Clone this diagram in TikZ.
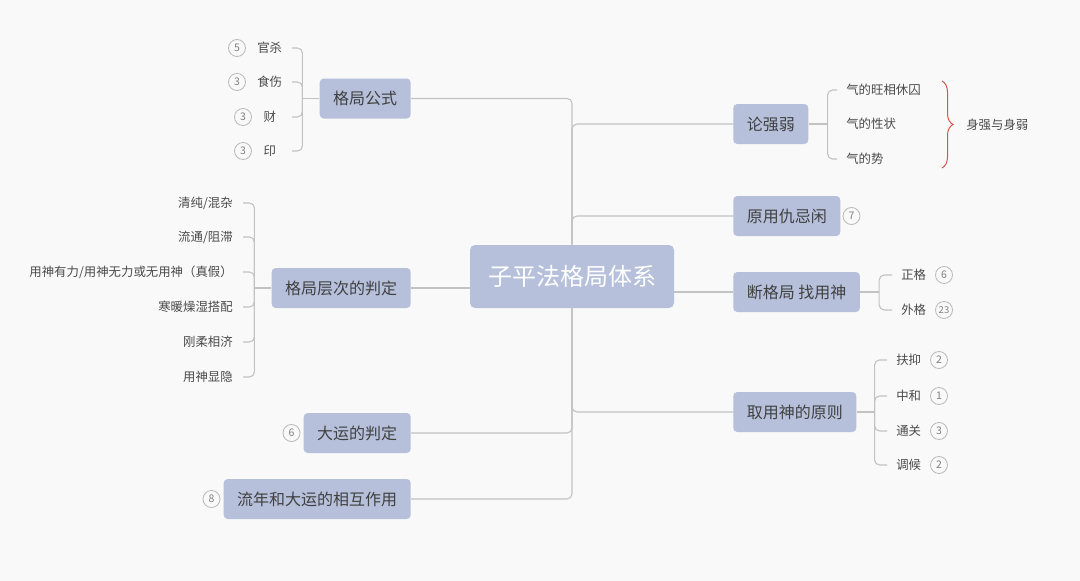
\documentclass[tikz,border=0pt]{standalone}
\usepackage{fontspec}
\setmainfont{Noto Sans CJK SC}
\usepackage{xcolor}
\usepackage{tikz}
\usetikzlibrary{positioning,decorations.pathreplacing}
\definecolor{topicblue}{HTML}{B6C0DB}
\definecolor{linegray}{HTML}{C2C2C2}
\definecolor{textgray}{HTML}{404040}
\definecolor{leafgray}{HTML}{4A4A4A}
\definecolor{bggray}{HTML}{F9F9F9}
\definecolor{bracered}{HTML}{D9534F}

\begin{document}
\begin{tikzpicture}[x=1pt ,y=-1pt ,semithick ,topic/.style ={rectangle ,rounded corners=4pt ,fill=topicblue ,text=textgray ,font=\fontsize{16}{16}\selectfont ,inner xsep=13.5pt ,minimum height=40pt} ,leaf/.style ={text=leafgray ,font=\fontsize{12.4}{12.4}\selectfont ,inner xsep=9pt ,inner ysep=0pt} ,num/.style ={circle ,draw=gray!55 ,text=gray ,font=\fontsize{10.5}{10.5}\selectfont ,minimum size=17pt ,inner sep=0pt ,line width=0.8pt} ,link/.style ={draw=linegray ,line width=1.1pt ,rounded corners=5pt}]
\fill[bggray] (0,0) rectangle (1080,581);
% root and main topics
\node[topic, fill=topicblue, text=white, font=\fontsize{24}{24}\selectfont, inner xsep=18pt, minimum height=63pt, rounded corners=5pt] (R) at (572,276.5) {子平法格局体系};
\node[topic, anchor=east] (A) at (411,98.5) {格局公式};
\node[topic, anchor=east] (B) at (411,288) {格局层次的判定};
\node[topic, anchor=east] (C) at (411,433) {大运的判定};
\node[topic, anchor=east] (D) at (411,499) {流年和大运的相互作用};
\node[topic, anchor=west] (E) at (733,124) {论强弱};
\node[topic, anchor=west] (F) at (733,216) {原用仇忌闲};
\node[topic, anchor=west] (G) at (733,292) {断格局 找用神};
\node[topic, anchor=west] (H) at (733,412) {取用神的原则};
% leaves
\node[leaf, anchor=east, minimum width=44pt] (A1) at (292,48) {官杀};
\node[leaf, anchor=east, minimum width=44pt] (A2) at (292,82) {食伤};
\node[leaf, anchor=east, minimum width=44pt] (A3) at (292,117) {财};
\node[leaf, anchor=east, minimum width=44pt] (A4) at (292,151) {印};
\node[leaf, anchor=east, inner xsep=10pt] (B1) at (243,203) {清纯/混杂};
\node[leaf, anchor=east, inner xsep=10pt] (B2) at (243,237) {流通/阻滞};
\node[leaf, anchor=east, inner xsep=10pt] (B3) at (243,272) {用神有力/用神无力或无用神（真假）};
\node[leaf, anchor=east, inner xsep=10pt] (B4) at (243,307) {寒暖燥湿搭配};
\node[leaf, anchor=east, inner xsep=10pt] (B5) at (243,342) {刚柔相济};
\node[leaf, anchor=east, inner xsep=10pt] (B6) at (243,377) {用神显隐};
\node[leaf, anchor=west] (E1) at (837,90) {气的旺相休囚};
\node[leaf, anchor=west] (E2) at (837,124) {气的性状};
\node[leaf, anchor=west] (E3) at (837,159) {气的势};
\node[leaf, anchor=west] (G1) at (892,275) {正格};
\node[leaf, anchor=west] (G2) at (892,310) {外格};
\node[leaf, anchor=west] (H1) at (887,360) {扶抑};
\node[leaf, anchor=west] (H2) at (887,396) {中和};
\node[leaf, anchor=west] (H3) at (887,431) {通关};
\node[leaf, anchor=west] (H4) at (887,465) {调候};
% number markers
\node[num] (nA1) at (237,48) {5};
\node[num] (nA2) at (237,82) {3};
\node[num] (nA3) at (243,117) {3};
\node[num] (nA4) at (243,151) {3};
\node[num] (nC) [left = 3pt of C] {6};
\node[num] (nD) [left = 3pt of D] {8};
\node[num] (nF) [right = 2pt of F] {7};
\node[num] (nG1) at (944,275) {6};
\node[num, font=\fontsize{9.5}{9.5}\selectfont] (nG2) at (944,310) {23};
\node[num] (nH1) at (939,360) {2};
\node[num] (nH2) at (939,396) {1};
\node[num] (nH3) at (939,431) {3};
\node[num] (nH4) at (939,465) {2};
% brace
\coordinate (Et) at (942,81);
\coordinate (Eb) at (942,168);
\draw[bracered, line width=1pt, decorate, decoration={brace, amplitude=11pt}] (Et) -- (Eb);
\node[leaf, anchor=west, inner xsep=0pt] (E4) at (966,125) {身强与身弱};
% links from root
\path[link] (R.north) |- (A.east);
\path[link] (R.north) |- (E.west);
\path[link] (R.north) |- (F.west);
\path[link] (R.east |- G.west) -- (G.west);
\path[link] (R.south) |- (H.west);
\path[link] (R.west |- B.east) -- (B.east);
\path[link] (R.south) |- (C.east);
\path[link] (R.south) |- (D.east);
% brackets
\path[link] (A.west) -- ++(-17,0) coordinate (Ab);
\path[link] (Ab) |- (A1.east);
\path[link] (Ab) |- (A2.east);
\path[link] (Ab) |- (A3.east);
\path[link] (Ab) |- (A4.east);
\path[link] (B.west) -- ++(-17,0) coordinate (Bb);
\path[link] (Bb) |- (B1.east);
\path[link] (Bb) |- (B2.east);
\path[link] (Bb) |- (B3.east);
\path[link] (Bb) |- (B4.east);
\path[link] (Bb) |- (B5.east);
\path[link] (Bb) |- (B6.east);
\path[link] (E.east) -- ++(19,0) coordinate (Eb2);
\path[link] (Eb2) |- (E1.west);
\path[link] (Eb2) |- (E3.west);
\path[link] (G.east) -- ++(19,0) coordinate (Gb);
\path[link] (Gb) |- (G1.west);
\path[link] (Gb) |- (G2.west);
\path[link] (H.east) -- ++(18,0) coordinate (Hb);
\path[link] (Hb) |- (H1.west);
\path[link] (Hb) |- (H2.west);
\path[link] (Hb) |- (H3.west);
\path[link] (Hb) |- (H4.west);
\end{tikzpicture}
\end{document}
